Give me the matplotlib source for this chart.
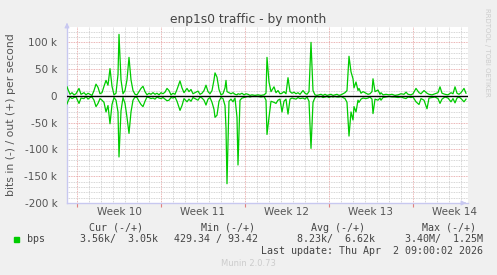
#!/usr/bin/env python3
"""
Munin style monthly traffic graph for enp1s0.
"""
import matplotlib
matplotlib.use("Agg")
import matplotlib.pyplot as plt
from matplotlib.ticker import FuncFormatter, MultipleLocator

# hours since start of week 10, with out (+) and in (-) traffic in kbit/s
hours = [-20, -18, -14, -10, -6, -2, 4, 8, 14, 18, 22, 26, 30, 34, 38, 42, 46, 50,
         54, 58, 62, 66, 70, 74, 78, 82, 84, 88, 92, 96, 100, 104, 108, 112, 116,
         120, 124, 128, 132, 136, 140, 144, 148, 152, 156, 160, 164, 168, 172, 176,
         180, 184, 188, 192, 196, 200, 206, 210, 214, 220, 224, 228, 232, 236, 242,
         246, 250, 254, 258, 262, 266, 270, 274, 276, 280, 284, 288, 292, 296, 298,
         300, 304, 308, 312, 316, 320, 322, 326, 330, 334, 338, 342, 346, 350, 356,
         362, 368, 374, 378, 380, 384, 388, 394, 398, 402, 406, 410, 414, 418, 422,
         426, 430, 434, 438, 442, 446, 452, 456, 460, 464, 468, 472, 476, 480, 484,
         488, 492, 496, 500, 504, 508, 512, 516, 520, 524, 528, 532, 536, 540, 544,
         548, 552, 554, 558, 562, 564, 568, 572, 578, 582, 586, 590, 592, 596, 602,
         606, 608, 612, 618, 624, 630, 636, 642, 648, 654, 658, 662, 668, 672, 678,
         684, 688, 694, 700, 704, 710, 716, 722, 726, 730, 736, 742, 748, 752, 756,
         760, 764, 768, 774, 778]
out_k = [17, 12, 3, 6, 2, 4, 14, 3, 6, 2, 5, 3, 1, 10, 22, 16, 4, 6,
         18, 29, 20, 51, 18, 2, 5, 40, 115, 30, 4, 10, 30, 72, 30, 10, 3,
         2, 8, 14, 18, 8, 2, 5, 3, 6, 3, 5, 2, 6, 4, 7,
         14, 10, 2, 5, 3, 12, 28, 15, 6, 14, 8, 12, 4, 6, 9,
         3, 5, 10, 20, 8, 4, 10, 30, 43, 35, 12, 2, 4, 15, 29,
         8, 6, 4, 6, 3, 2, 4, 3, 5, 2, 4, 3, 1, 2, 1,
         2, 1, 2, 5, 72, 26, 8, 17, 6, 10, 4, 5, 8, 4, 34,
         8, 5, 7, 4, 6, 3, 10, 5, 3, 8, 100, 10, 2, 1, 2,
         3, 1, 3, 1, 2, 3, 1, 2, 3, 1, 2, 4, 6, 10, 74,
         45, 32, 15, 26, 10, 14, 5, 8, 5, 3, 4, 8, 32, 8, 11,
         3, 6, 2, 3, 2, 3, 1, 2, 4, 3, 7, 3, 2, 4, 14,
         6, 4, 10, 5, 3, 2, 4, 6, 17, 5, 3, 2, 6, 4, 17,
         5, 3, 6, 14, 5]
in_k = [15, 10, 2, 5, 3, 2, 14, 4, 5, 1, 6, 3, 2, 8, 20, 14, 5, 8,
        12, 30, 18, 52, 16, 3, 8, 30, 114, 28, 3, 14, 40, 70, 30, 8, 2,
        3, 10, 16, 20, 10, 2, 3, 5, 4, 6, 2, 4, 5, 3, 6,
        9, 8, 3, 4, 2, 10, 27, 18, 5, 11, 6, 10, 3, 5, 8,
        2, 4, 8, 17, 6, 3, 12, 25, 40, 36, 10, 3, 5, 18, 60,
        164, 10, 6, 11, 4, 40, 129, 8, 4, 3, 2, 1, 2, 1, 1,
        1, 2, 1, 8, 72, 40, 10, 12, 14, 8, 6, 30, 10, 6, 34,
        6, 4, 5, 6, 3, 5, 4, 6, 2, 10, 98, 12, 3, 1, 2,
        1, 3, 2, 1, 3, 1, 2, 1, 2, 2, 1, 3, 5, 12, 75,
        30, 45, 20, 30, 8, 12, 6, 4, 5, 4, 2, 6, 33, 6, 8,
        4, 8, 3, 2, 1, 2, 2, 3, 2, 4, 5, 2, 3, 2, 11,
        16, 5, 8, 24, 4, 3, 2, 5, 14, 6, 2, 4, 11, 5, 13,
        4, 2, 5, 11, 6]

week_starts = [0, 168, 336, 504, 672]
week_names = ["Week 10", "Week 11", "Week 12", "Week 13", "Week 14"]

legend_heads = ["Cur (-/+)", "Min (-/+)", "Avg (-/+)", "Max (-/+)"]
legend_vals = ["3.56k/  3.05k", "429.34 / 93.42", "8.23k/  6.62k", "3.40M/  1.25M"]

W, H = 497, 275
fig = plt.figure(figsize=(W / 100, H / 100), dpi=100, facecolor="#f0f0f0")
ax = fig.add_axes([67 / W, 1 - 203 / H, (468 - 67) / W, (203 - 27) / H])
ax.set_facecolor("white")

green = "#00cc00"
out_bits = [v * 1000 for v in out_k]
in_bits = [-v * 1000 for v in in_k]
ax.plot(hours, out_bits, color=green, lw=0.9, zorder=3)
ax.plot(hours, in_bits, color=green, lw=0.9, zorder=3)
ax.axhline(0, color="black", lw=1.0, zorder=4)

ax.set_xlim(-20, 782)
ax.set_ylim(-200000, 128700)

# grid: minor grey every day / 10k, major red every week / 50k
ax.xaxis.set_minor_locator(MultipleLocator(24))
ax.yaxis.set_minor_locator(MultipleLocator(10000))
ax.set_xticks(week_starts)
ax.set_xticklabels([])
ax.yaxis.set_major_locator(MultipleLocator(50000))
ax.grid(which="minor", color="#c8c8c8", ls=(0, (1, 1)), lw=0.6)
ax.grid(which="major", color="#e49a9a", ls=(0, (1, 1)), lw=0.6)
ax.set_axisbelow(True)

def kfmt(v, pos):
    if v == 0:
        return "0"
    return "%d k" % round(v / 1000)

ax.yaxis.set_major_formatter(FuncFormatter(kfmt))
ax.tick_params(axis="y", which="both", length=0, labelsize=7.5,
               labelcolor="#555555", pad=7)
ax.tick_params(axis="x", which="major", length=3, color="#e08080", direction="out")
ax.tick_params(axis="x", which="minor", length=0)

for name, start in zip(week_names, week_starts):
    ax.text(start + 84, -0.05, name, transform=ax.get_xaxis_transform(),
            ha="center", va="center", fontsize=7.5, color="#555555")

for sp in ("top", "right"):
    ax.spines[sp].set_visible(False)
for sp in ("left", "bottom"):
    ax.spines[sp].set_color("#c8c8f0")
    ax.spines[sp].set_linewidth(1.0)

# axis arrows
ax.annotate("", xy=(469 / W, 1 - 203 / H), xytext=(462 / W, 1 - 203 / H),
            xycoords="figure fraction",
            arrowprops=dict(arrowstyle="-|>", color="#c8c8f0", lw=0.8,
                            mutation_scale=7))
ax.annotate("", xy=(67 / W, 1 - 20 / H), xytext=(67 / W, 1 - 28 / H),
            xycoords="figure fraction",
            arrowprops=dict(arrowstyle="-|>", color="#c8c8f0", lw=0.8,
                            mutation_scale=7))

fig.text(248 / W, 1 - 19 / H, "enp1s0 traffic - by month", ha="center",
         va="center", fontsize=8.8, color="#444444")
fig.text(11 / W, 1 - 115 / H, "bits in (-) / out (+) per second", rotation=90,
         ha="center", va="center", fontsize=7.8, color="#555555")
fig.text(487 / W, 1 - 52 / H, "RRDTOOL / TOBI OETIKER", rotation=270,
         ha="center", va="center", fontsize=5, color="#cccccc")

mono = dict(family="DejaVu Sans Mono", fontsize=7.2, color="#444444", va="center")
fig.patches.append(plt.Rectangle((14 / W, 1 - 242 / H), 5 / W, 5 / H,
                                 transform=fig.transFigure, color=green))
fig.text(27 / W, 1 - 239 / H, "bps", **mono)
head_right = [143, 255, 365, 476]
val_right = [158, 258, 375, 483]
for txt, x in zip(legend_heads, head_right):
    fig.text(x / W, 1 - 228 / H, txt, ha="right", **mono)
for txt, x in zip(legend_vals, val_right):
    fig.text(x / W, 1 - 239 / H, txt, ha="right", **mono)
fig.text(483 / W, 1 - 251 / H, "Last update: Thu Apr  2 09:00:02 2026",
         ha="right", **mono)
fig.text(248 / W, 1 - 264 / H, "Munin 2.0.73", ha="center", va="center",
         fontsize=6, color="#cccccc")

plt.savefig("out.png", dpi=100, facecolor=fig.get_facecolor())
